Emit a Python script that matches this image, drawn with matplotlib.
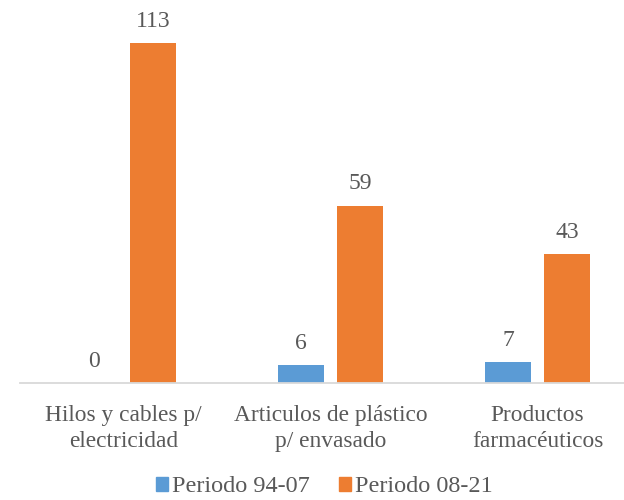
import matplotlib
matplotlib.use("Agg")
import matplotlib.pyplot as plt
import numpy as np
from matplotlib.patches import Patch

categories = ["Hilos y cables p/\nelectricidad", "Articulos de plástico\np/ envasado", "Productos\nfarmacéuticos"]
series_names = ["Periodo 94-07", "Periodo 08-21"]
periodo_94_07 = [0, 6, 7]
periodo_08_21 = [113, 59, 43]

plt.rcParams['font.family'] = ['Liberation Serif', 'DejaVu Serif']
plt.rcParams['font.serif'] = ['Liberation Serif', 'DejaVu Serif']
txt = '#595959'
blue = '#5b9bd5'
orange = '#ed7d31'

fig = plt.figure(figsize=(6.24, 5.0), dpi=100)
ax = fig.add_axes([20/624, 117/500, 621/624, 361/500])
x = np.arange(len(categories))
w = 0.227
off = 0.1425
b1 = ax.bar(x - off, periodo_94_07, w, color=blue)
b2 = ax.bar(x + off, periodo_08_21, w, color=orange)
for bars, vals in ((b1, periodo_94_07), (b2, periodo_08_21)):
    for r, v in zip(bars, vals):
        ax.annotate(str(v), (r.get_x() + r.get_width()/2, v), xytext=(0, 8),
                    textcoords='offset points', ha='center', va='bottom',
                    fontsize=17, color=txt)
ax.set_xlim(-0.5, 2.5)
ax.set_ylim(0, 120)
for s in ['top', 'right', 'left']:
    ax.spines[s].set_visible(False)
ax.spines['bottom'].set_color('#d9d9d9')
ax.spines['bottom'].set_linewidth(1.3)
ax.set_yticks([])
ax.set_xticks(x)
ax.set_xticklabels(categories, fontsize=16.8, color=txt, linespacing=1.32)
ax.tick_params(axis='x', length=0, pad=16)

handles = [Patch(color=blue), Patch(color=orange)]
fig.legend(handles, series_names, loc='center', bbox_to_anchor=(324.5/624, 1 - 487/500),
           ncol=2, frameon=False, fontsize=17.5, labelcolor=txt,
           handlelength=0.5, handleheight=0.55, handletextpad=0.16, columnspacing=1.2,
           borderpad=0, borderaxespad=0)
fig.savefig('out.png', dpi=100)
